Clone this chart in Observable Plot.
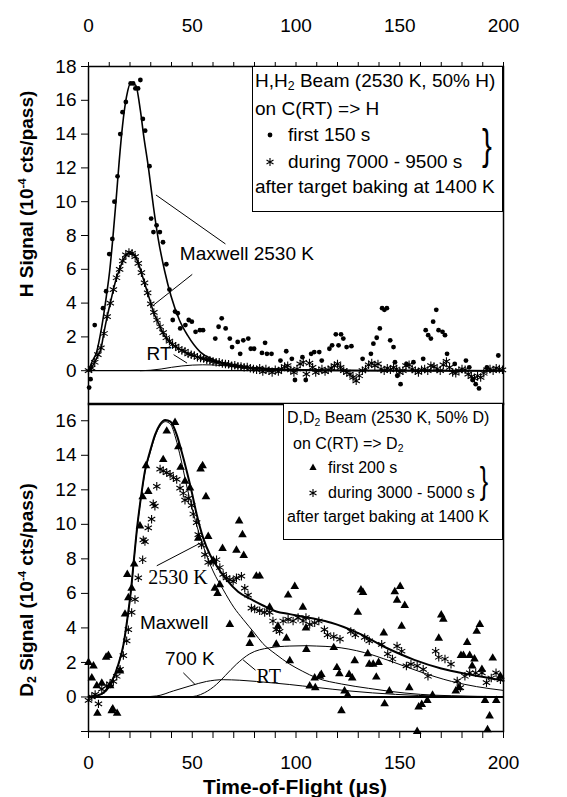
<!DOCTYPE html>
<html><head><meta charset="utf-8">
<script src="https://cdn.jsdelivr.net/npm/d3@7"></script>
<script src="https://cdn.jsdelivr.net/npm/@observablehq/plot@0.6"></script>
<style>
html,body{margin:0;padding:0;background:#fff;}
#chart{position:relative;width:567px;height:797px;font-family:"Liberation Sans",Arial,Helvetica,sans-serif;color:#000;overflow:hidden;background:#fff;}
#chart > svg{position:absolute;left:0;}
.legend{position:absolute;background:#fff;border:1px solid #000;box-sizing:border-box;}
.ln{position:absolute;white-space:nowrap;line-height:1;transform:translateY(-50%);}
.mk{position:absolute;transform:translate(-50%,-50%);}
.brace{position:absolute;font-weight:normal;line-height:1;transform:translate(-50%,-50%) scaleX(0.7);}
.ytitle{position:absolute;font-weight:bold;font-size:19px;white-space:nowrap;line-height:1;transform:translate(-50%,-50%) rotate(-90deg);}
.xtitle{position:absolute;font-weight:bold;font-size:21px;white-space:nowrap;line-height:1;transform:translate(-50%,-50%);}
sub{font-size:0.65em;vertical-align:-0.25em;line-height:0;}
sup{font-size:0.6em;vertical-align:0.6em;line-height:0;}
</style></head>
<body><div id="chart"></div>
<script>
// ---------- data ----------
const xMajorTicks = [0, 50, 100, 150, 200];
const xMinorTicks = [0,10,20,30,40,50,60,70,80,90,100,110,120,130,140,150,160,170,180,190,200];
const yTicksTop = [0,2,4,6,8,10,12,14,16,18];
const yTicksBot = [0,2,4,6,8,10,12,14,16];

// top panel: H signal, first 150 s (dots)
const topDots = [[0.3,-1.0],[1,-0.5],[3,2.7],[7,3.7],[8.5,4.7],[10,6.9],[11.5,7.8],[12.5,10.0],[14,11.5],[15.3,14.0],[16.4,15.3],[18,15.9],[20.3,17.0],[21.5,17.0],[22.6,16.7],[23.9,16.7],[25,17.2],[26.2,14.9],[27.3,14.2],[29.4,12.1],[30.2,9.0],[31.3,8.2],[32.8,8.6],[34.4,8.2],[35.9,7.6],[37.5,6.3],[39,4.8],[40.6,3.0],[41.7,3.5],[43,3.4],[44.2,2.5],[46.7,2.7],[48.3,3.0],[49.8,2.9],[51.6,2.3],[53.7,2.4],[55.2,2.4],[61.1,1.9],[62.7,2.6],[64.2,3.1],[66.1,2.5],[68.1,1.9],[69.2,1.4],[71.9,1.7],[73.1,1.0],[74.6,1.8],[77,1.9],[78.2,1.3],[79.8,1.3],[83.6,1.05],[85.1,1.65],[86,1.0],[88.2,1.0],[92.5,0.6],[95.3,1.15],[98,0.7],[99.5,-0.55],[103.1,0.8],[104.7,-0.55],[107.3,1.0],[108.8,1.1],[111.2,1.1],[112.4,0.6],[116.1,1.3],[117.4,1.5],[119.2,2.15],[120.5,1.5],[121.7,2.15],[122.8,1.9],[124.4,1.4],[126.7,1.45],[132.1,0.7],[136.1,1.0],[137.3,1.6],[138.9,1.95],[140.4,2.5],[141.5,3.7],[142.6,3.6],[143.8,3.7],[145.4,1.8],[147,1.4],[147.7,0.5],[148.8,-0.3],[150.4,-0.8],[153.2,0.4],[156.6,0.5],[161.3,0.7],[162.5,2.4],[163.7,2.1],[165,1.9],[166.1,2.9],[167.6,3.6],[168.7,2.4],[170.6,2.3],[171.8,2.1],[172.8,1.0],[176.5,0.4],[181.9,0.6],[183.5,0.2],[185.1,-0.55],[186.6,-0.8],[188.2,-1.05],[192,0.2],[197.5,0.9]];

// top panel: during 7000-9500 s (asterisks)
const topStars = [[0,0],[1.5,0.15],[3,0.5],[4.5,0.95],[6,1.35],[7.5,2.2],[9,3.2],[10.5,4.0],[12,4.8],[13.5,5.5],[15,6.0],[16.5,6.5],[18,6.85],[19.5,7.0],[21,6.95],[22.5,6.75],[24,6.35],[25.5,5.8],[27,5.2],[28.5,4.6],[30,3.95],[31.5,3.45],[33,3.0],[34.5,2.6],[36,2.25],[37.5,1.95],[39,1.75],[40.5,1.55],[42,1.45],[43.5,1.3],[45,1.2],[46.5,1.15],[48,1.0],[49.5,0.95],[51,0.9],[52.5,0.8],[54,0.75],[55.5,0.72],[57,0.65],[58.5,0.62],[60,0.55],[61.5,0.5],[63,0.5],[64.5,0.42],[66,0.4],[67.5,0.38],[69,0.3],[70.5,0.32],[72,0.26],[73.5,0.25],[75,0.2],[76.5,0.22],[78,0.15],[79.5,0.1],[81,0.05],[82.5,0.15],[84,-0.05],[85.5,0.1],[87,0],[88.5,-0.1],[90,0.05],[91.5,-0.05],[93,0.1],[94.5,0.25],[96,0.3],[97.5,0.05],[99,-0.1],[100.5,0.1],[102,0.4],[103.5,0.5],[105,-0.2],[106.5,0.45],[108,0.2],[109.5,-0.1],[111,0],[112.5,0.1],[114,-0.05],[115.5,0.05],[117,0.15],[118.5,0.3],[120,0.4],[121.5,0.2],[123,0],[124.5,-0.1],[126,-0.2],[127.5,-0.4],[129,-0.6],[130.5,-0.3],[132,0],[133.5,0.1],[135,0.35],[136.5,0.45],[138,0.3],[139.5,0.4],[141,0.1],[142.5,0],[144,0.15],[145.5,0.05],[147,0.2],[148.5,0.1],[150,-0.1],[151.5,0],[153,0.3],[154.5,0.35],[156,0.1],[157.5,0],[159,-0.1],[160.5,0.05],[162,0.1],[163.5,0],[165,0.3],[166.5,0.25],[168,0.1],[169.5,0],[171,0.35],[172.5,0.55],[174,0.2],[175.5,-0.1],[177,-0.15],[178.5,0],[180,0.1],[181.5,0.05],[183,-0.2],[184.5,-0.35],[186,-0.45],[187.5,-0.3],[189,-0.4],[190.5,-0.15],[192,0.05],[193.5,0.1],[195,0],[196.5,0.15],[198,0.1],[199.5,0.05]];

// top panel fitted curves
const topFitDots = [[0,0],[1.6,0.5],[3.9,1.1],[6.25,2.5],[8.6,4.4],[10.2,5.9],[11.7,7.8],[13.3,10.1],[14.8,12.4],[16.4,14.5],[18.3,16.2],[20.3,17.0],[22.7,16.9],[25,15.4],[26.6,13.9],[28.9,12.0],[31.3,9.7],[33.6,7.8],[36.7,5.9],[39.8,4.4],[43.8,3.0],[47.7,2.1],[53.9,1.1],[60,0.67],[69.5,0.3],[80,0.15],[100,0.05],[130,0.01],[200,0]];
const topFitStars = [[0,0],[1.5,0.2],[3,0.5],[4.5,0.9],[6,1.3],[7.5,2.3],[9,3.2],[10.5,4.0],[12,4.8],[13.5,5.5],[15,6.0],[16.5,6.5],[18,6.8],[19.5,6.95],[21,6.95],[22.5,6.8],[24,6.35],[25.5,5.8],[27,5.2],[28.5,4.6],[30,4.0],[31.5,3.4],[33,3.0],[34.5,2.6],[36,2.2],[37.5,1.95],[39,1.7],[42,1.4],[45,1.2],[48,1.0],[51,0.88],[54,0.76],[57,0.65],[60,0.56],[63,0.48],[66,0.4],[69,0.33],[72,0.28],[75,0.22],[80,0.15],[100,0.04],[130,0.01],[200,0]];
const topFitRT = [[25,0],[30,0.03],[35,0.1],[40,0.2],[45,0.28],[50,0.33],[55,0.35],[60,0.34],[65,0.3],[70,0.26],[75,0.22],[80,0.18],[90,0.1],[100,0.05],[120,0.01],[200,0]];

// bottom panel: D2 signal, first 200 s (triangles)
const botTri = [[0,2.0],[1.6,1.1],[2.4,1.8],[4,0.65],[4.3,-0.95],[6.4,0.8],[8.5,2.3],[9.6,2.4],[10.4,0.65],[11.2,-0.8],[11.7,-0.7],[13.8,-0.95],[15.2,1.5],[17.6,4.8],[18.7,7.1],[19.2,5.75],[20.8,6.3],[22,7.7],[24.8,9.9],[26.1,11.6],[27.7,13.4],[28.8,11.9],[36,13.75],[37.7,15.4],[41.7,15.9],[43.3,14.5],[44.4,13.3],[46.5,12.5],[48.9,12.1],[52.9,9.2],[54,13.2],[55,13.4],[56.6,11.6],[57.7,9.3],[60.1,7.9],[60.9,6.3],[62.2,6.0],[63.3,6.5],[64.6,8.6],[68.1,4.2],[71.3,8.5],[72.6,10.2],[74.2,9.4],[74.8,8.2],[77.7,3.1],[78.5,3.6],[80.9,7.0],[82.5,7.0],[87.3,5.2],[90.5,3.05],[91.3,4.1],[95.4,3.4],[96.2,5.9],[97,2.1],[99.4,6.4],[103.3,5.2],[104.8,4.0],[105,2.75],[106.6,0.64],[109,1.1],[109.3,0.54],[111.5,1.2],[112.2,1.3],[118.2,2.86],[119.7,1.7],[120.9,1.35],[121.9,-0.8],[123.4,0.35],[124.9,0.12],[125.6,1.3],[127.1,1.1],[128.3,2.1],[129.8,4.9],[131.3,6.2],[132.3,6.05],[134.6,2.5],[135.3,1.9],[137.2,1.9],[138.7,1.15],[139.8,2.0],[142.3,3.7],[142.7,-0.4],[145,0.35],[147.6,6.1],[148.7,5.6],[150.2,6.4],[150.9,4.1],[152.4,5.3],[154.6,0.54],[158.4,-2.0],[159.1,-0.58],[160.6,-0.43],[163.3,-0.2],[165.8,0.1],[168.8,3.4],[170,4.75],[171,4.5],[177,0.35],[178.5,0.54],[179.5,2.4],[180.7,2.4],[182.5,3.15],[183.7,2.4],[184.9,1.8],[186,2.2],[187.1,3.8],[188.6,4.2],[189.6,1.6],[191.1,-0.2],[192.3,-1.9],[193.3,-1.1],[194.8,2.25],[196.5,-0.2],[198.5,1.2]];

// bottom panel: during 3000-5000 s (asterisks)
const botStars = [[0,-0.2],[1.6,0],[3.2,0.15],[4.8,-0.4],[6.4,0.45],[8.8,0.65],[10.4,0.75],[12,0.9],[13.6,1.2],[15.2,1.6],[16.8,2.4],[18.4,3.25],[19.2,3.9],[20.8,4.9],[22.4,5.65],[24,6.9],[26.1,7.95],[26.4,9.1],[27.2,9.0],[28.8,9.8],[30.4,10.3],[31.2,11.2],[32,11.05],[32.9,12.2],[34.5,13.2],[36,13.1],[37.7,13.0],[39.3,12.9],[40.9,12.7],[42.5,12.6],[44.1,12.1],[45.7,11.8],[46.5,11.4],[48.1,11.5],[49.7,11.1],[50.5,10.6],[52.1,10.1],[52.9,9.4],[54.5,8.8],[56.1,8.25],[57.7,7.8],[60.1,7.8],[61.7,7.95],[63.3,7.5],[64.9,7.1],[66.5,6.9],[68.1,6.8],[69.7,6.7],[71.3,6.9],[73.7,7.0],[75.3,6.3],[76.9,5.9],[78.5,5.15],[80.1,5.1],[82.5,5.0],[84.9,4.9],[87.3,4.9],[88.9,4.4],[90.5,3.9],[92.1,3.8],[93.8,4.4],[96.2,4.5],[98.6,4.4],[101,4.6],[103.4,4.4],[104.8,4.6],[106.6,4.2],[109,4.3],[111,4.4],[113.7,3.9],[115.2,3.6],[118.2,3.5],[121.2,3.35],[126.4,3.8],[128.6,3.6],[133.1,3.45],[135.3,3.25],[141.3,3.05],[144.2,2.5],[146.5,2.2],[148.7,2.95],[150.9,2.65],[153.2,1.8],[155.4,1.9],[158.4,1.8],[161.3,1.6],[163.6,1.2],[167.3,2.65],[168.8,2.3],[171.8,2.2],[174.7,1.9],[177.7,0.93],[179.2,0.54],[181.4,1.2],[183.7,1.4],[186.6,1.4],[189.6,1.4],[191.8,0.83],[194.1,1.1],[196.4,1.4],[198.5,1.0]];

// bottom panel fitted curves
const botFitSum = [[0,0],[4,0.08],[7.2,0.25],[11.2,0.9],[14.4,1.9],[16.8,3.0],[18.8,4.6],[20.4,6.1],[22,8.1],[23.6,10.0],[25.2,11.5],[27.2,13.1],[29.6,14.2],[32.1,15.2],[34.5,15.8],[37,16.05],[39.5,15.95],[42.5,15.2],[44.9,14.2],[47.3,13.1],[49.7,11.9],[52.1,10.6],[55.3,9.2],[58.5,8.25],[61.7,7.6],[66.5,6.8],[72.1,6.1],[78.5,5.65],[84.1,5.3],[90.5,4.95],[97,4.8],[103,4.65],[110,4.5],[117,4.3],[130,3.7],[143.5,2.85],[157,2.15],[170,1.65],[183.7,1.3],[200,0.95]];
const botFit2530 = [[0,0],[7.2,0.2],[11.2,0.85],[14.4,1.85],[16.8,2.95],[18.8,4.55],[20.4,6.05],[22,8.05],[23.6,9.95],[25.2,11.45],[27.2,13.0],[29.6,14.1],[32.1,15.1],[34.5,15.7],[37,15.95],[39.5,15.8],[42,15.0],[44.5,13.8],[47,12.4],[50,10.9],[53,9.6],[56,8.5],[60,7.3],[65,6.2],[70,5.2],[74.5,4.5],[80,3.7],[84,3.1],[90,2.5],[97,1.9],[103,1.5],[110,1.1],[122,0.75],[135,0.5],[145,0.33],[160,0.15],[175,0.07],[200,0.02]];
const botFit700 = [[25,0],[32.9,0.06],[40.9,0.35],[48.9,0.64],[56.9,0.9],[64.9,1.0],[72.9,0.97],[80.9,0.9],[90,0.8],[97,0.72],[103,0.64],[110,0.55],[125.6,0.35],[148,0.15],[170,0.05],[200,0.01]];
const botFitRT = [[48,0],[52,0.06],[56,0.25],[61.7,0.73],[66,1.25],[71.3,1.9],[77.7,2.5],[87.3,2.85],[97,2.95],[105,2.97],[110,2.95],[118,2.9],[133,2.57],[145,2.1],[160,1.45],[175,0.9],[187,0.6],[200,0.38]];

// annotations (data coordinates)
const topNotes = [
  {t: 44, v: 6.9, text: "Maxwell 2530 K", serif: false},
  {t: 28, v: 1.0, text: "RT", serif: false}
];
const topLeaders = [[32.5,10.4,66,7.5],[50,5.7,31.5,3.9],[41,0.95,47.5,0.45]];
const botNotes = [
  {t: 28.8, v: 6.9, text: "2530 K", serif: true},
  {t: 24.8, v: 4.3, text: "Maxwell", serif: false},
  {t: 36.9, v: 2.2, text: "700 K", serif: false},
  {t: 81, v: 1.2, text: "RT", serif: true}
];
const botLeaders = [[32.9,7.6,55.3,9.0],[45.7,1.4,51.3,0.73],[74.5,2.15,80.5,1.55]];

// ---------- drawing ----------
const SANS = '"Liberation Sans", Arial, Helvetica, sans-serif';
const SERIF = '"Liberation Serif", "Times New Roman", serif';
const X = d => d[0], Y = d => d[1];
const chart = document.getElementById("chart");
const baseStyle = {fontFamily: SANS, fontSize: "19px", background: "transparent", overflow: "visible", color: "#000"};

function noteMarks(notes, leaders) {
  return [
    Plot.link(leaders, {x1: d => d[0], y1: d => d[1], x2: d => d[2], y2: d => d[3], stroke: "#000", strokeWidth: 1}),
    Plot.text(notes.filter(d => !d.serif), {x: "t", y: "v", text: "text", textAnchor: "start", fontSize: 19, fontFamily: SANS, fill: "#000"}),
    Plot.text(notes.filter(d => d.serif), {x: "t", y: "v", text: "text", textAnchor: "start", fontSize: 20, fontFamily: SERIF, fill: "#000"})
  ];
}

const topPlot = Plot.plot({
  width: 567, height: 404,
  marginLeft: 88, marginRight: 64, marginTop: 66, marginBottom: 0,
  x: {domain: [0, 200], axis: null},
  y: {domain: [-2, 18], axis: null},
  style: baseStyle,
  marks: [
    Plot.ruleY([0], {stroke: "#000", strokeWidth: 1.2}),
    Plot.line(topFitRT, {x: X, y: Y, stroke: "#000", strokeWidth: 1, curve: "monotone-x"}),
    Plot.line(topFitDots, {x: X, y: Y, stroke: "#000", strokeWidth: 1.6, curve: "monotone-x"}),
    Plot.line(topFitStars, {x: X, y: Y, stroke: "#000", strokeWidth: 1.6, curve: "monotone-x"}),
    Plot.dot(topDots, {x: X, y: Y, r: 2.4, fill: "#000", stroke: null}),
    Plot.dot(topStars, {x: X, y: Y, symbol: "asterisk", r: 4, stroke: "#000", strokeWidth: 1.1}),
    ...noteMarks(topNotes, topLeaders),
    Plot.frame({stroke: "#000", strokeWidth: 1.5}),
    Plot.axisY({anchor: "left", ticks: yTicksTop, tickSize: 7, tickPadding: 5, fontSize: 19, label: null}),
    Plot.axisX({anchor: "top", ticks: xMajorTicks, tickSize: 0, tickPadding: 35, fontSize: 19, label: null}),
    Plot.axisX({anchor: "top", ticks: xMinorTicks, tickSize: 5, tickFormat: () => "", label: null})
  ]
});
topPlot.style.top = "0px";
chart.appendChild(topPlot);

const botPlot = Plot.plot({
  width: 567, height: 394,
  marginLeft: 88, marginRight: 64, marginTop: 0, marginBottom: 66,
  x: {domain: [0, 200], axis: null},
  y: {domain: [-2, 17], axis: null},
  style: baseStyle,
  marks: [
    Plot.ruleY([0], {stroke: "#000", strokeWidth: 2}),
    Plot.line(botFit700, {x: X, y: Y, stroke: "#000", strokeWidth: 1, curve: "monotone-x"}),
    Plot.line(botFitRT, {x: X, y: Y, stroke: "#000", strokeWidth: 1, curve: "monotone-x"}),
    Plot.line(botFit2530, {x: X, y: Y, stroke: "#000", strokeWidth: 1, curve: "monotone-x"}),
    Plot.line(botFitSum, {x: X, y: Y, stroke: "#000", strokeWidth: 2, curve: "monotone-x"}),
    Plot.dot(botTri, {x: X, y: Y, symbol: "triangle", r: 3.2, fill: "#000", stroke: null}),
    Plot.dot(botStars, {x: X, y: Y, symbol: "asterisk", r: 4, stroke: "#000", strokeWidth: 1.1}),
    ...noteMarks(botNotes, botLeaders),
    Plot.frame({stroke: "#000", strokeWidth: 1.5}),
    Plot.axisY({anchor: "left", ticks: yTicksBot, tickSize: 7, tickPadding: 5, fontSize: 19, label: null}),
    Plot.axisY({anchor: "left", ticks: [-2], tickSize: 7, tickFormat: () => "", label: null}),
    Plot.axisX({anchor: "bottom", ticks: xMajorTicks, tickSize: 0, tickPadding: 24, fontSize: 19, label: null}),
    Plot.axisX({anchor: "bottom", ticks: xMinorTicks, tickSize: 7, tickFormat: () => "", label: null})
  ]
});
botPlot.style.top = "403px";
chart.appendChild(botPlot);

// ---------- HTML text: titles and legends ----------
const dotSVG = '<svg width="10" height="10"><circle cx="5" cy="5" r="2.4" fill="#000"/></svg>';
const starSVG = '<svg width="12" height="12"><path d="M6,2V10M2.5,4L9.5,8M2.5,8L9.5,4" stroke="#000" stroke-width="1.1" fill="none"/></svg>';
const triSVG = '<svg width="10" height="10"><path d="M5,1.5L8.6,8L1.4,8Z" fill="#000"/></svg>';

chart.insertAdjacentHTML("beforeend", `
<div class="ytitle" style="left:26px;top:194px;">H Signal (10<sup>-4</sup> cts/pass)</div>
<div class="ytitle" style="left:26px;top:590px;">D<sub>2</sub> Signal (10<sup>-4</sup> cts/pass)</div>
<div class="xtitle" style="left:295px;top:786px;">Time-of-Flight (μs)</div>

<div class="legend" style="left:252px;top:66px;width:251px;height:146px;font-size:19px;">
  <div class="ln" style="left:2px;top:13px;">H,H<sub>2</sub> Beam (2530 K, 50% H)</div>
  <div class="ln" style="left:2px;top:41px;">on C(RT) =&gt; H</div>
  <div class="mk" style="left:17px;top:67px;">${dotSVG}</div>
  <div class="ln" style="left:35px;top:67px;">first 150 s</div>
  <div class="mk" style="left:17px;top:95px;">${starSVG}</div>
  <div class="ln" style="left:35px;top:94px;">during 7000 - 9500 s</div>
  <div class="ln" style="left:2px;top:119px;">after target baking at 1400 K</div>
  <div class="brace" style="left:234px;top:78px;font-size:42px;">}</div>
</div>

<div class="legend" style="left:283px;top:403px;width:220px;height:137px;font-size:16px;">
  <div class="ln" style="left:3px;top:14px;">D,D<sub>2</sub> Beam (2530 K, 50% D)</div>
  <div class="ln" style="left:9px;top:40px;">on C(RT) =&gt; D<sub>2</sub></div>
  <div class="mk" style="left:29px;top:63px;">${triSVG}</div>
  <div class="ln" style="left:44px;top:64px;">first 200 s</div>
  <div class="mk" style="left:29px;top:90px;">${starSVG}</div>
  <div class="ln" style="left:44px;top:89px;">during 3000 - 5000 s</div>
  <div class="ln" style="left:3px;top:113px;">after target baking at 1400 K</div>
  <div class="brace" style="left:200px;top:77px;font-size:36px;">}</div>
</div>
`);
</script>
</body></html>
